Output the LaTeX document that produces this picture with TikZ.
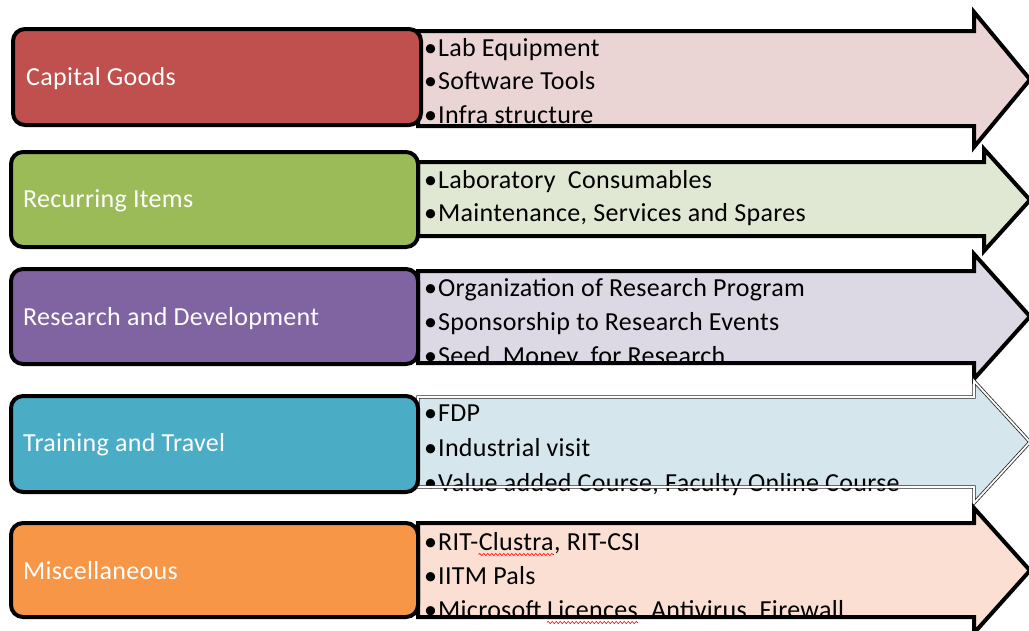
\documentclass[tikz,border=0pt]{standalone}
\usepackage{fontspec}
\setmainfont{Carlito}[LetterSpace=1.2]
\usetikzlibrary{decorations.pathmorphing}
\definecolor{capred}{HTML}{C0504D}
\definecolor{caplight}{HTML}{EAD5D4}
\definecolor{recgreen}{HTML}{9BBB59}
\definecolor{reclight}{HTML}{E0E8D3}
\definecolor{rdpurple}{HTML}{8064A2}
\definecolor{rdlight}{HTML}{DCD8E4}
\definecolor{trteal}{HTML}{4BACC6}
\definecolor{trlight}{HTML}{D5E6EC}
\definecolor{misorange}{HTML}{F79646}
\definecolor{mislight}{HTML}{FBDFD3}
\newcommand\arrowpath[5]{(418,#1) -- (#5,#1) -- (#5,#3) -- (1030,{(#3+#4)/2}) -- (#5,#4) -- (#5,#2) -- (418,#2) -- cycle}
\tikzset{
  catbox/.style={draw=black, line width=4pt, rounded corners=12pt, inner sep=0pt},
  lab/.style={text=white, font=\fontsize{26}{30}\selectfont, inner sep=0pt, anchor=base west},
  item/.style={text=black, font=\fontsize{26}{30}\selectfont, inner sep=0pt, anchor=base west},
  arrowline/.style={draw=black, line width=4pt, line join=miter},
  dblline/.style={draw=black!85, line width=0.8pt, double=white, double distance=1.8pt, line join=miter},
  spell/.style={draw=red, line width=0.6pt, decorate, decoration={snake, segment length=4pt, amplitude=1.1pt}},
}
\newcommand\bul{\textbullet\hspace{1pt}}
\begin{document}
\begin{tikzpicture}[x=1pt,y=-1pt]
\useasboundingbox (0,0) rectangle (1029,630);
% ---------- Row 1 ----------
\fill[caplight] \arrowpath{31}{126}{12}{147}{974};
\begin{scope}
\clip \arrowpath{31}{126}{12}{147}{974};
\node[item] (a1) at (424,56) {\bul Lab Equipment};
\node[item] (a2) at (424,89.5) {\bul Software Tools};
\node[item] (a3) at (424,123) {\bul Infra structure};
\end{scope}
\draw[arrowline] \arrowpath{31}{126}{12}{147}{974};
\node[catbox, fill=capred, minimum width=408pt, minimum height=96pt] (cap) at (217,77) {};
\node[lab] (capl) at (26,85.5) {Capital Goods};
% ---------- Row 2 ----------
\fill[reclight] \arrowpath{162}{236}{149}{251}{984};
\begin{scope}
\clip \arrowpath{162}{236}{149}{251}{984};
\node[item] (b1) at (424,188.5) {\bul Laboratory\ \ Consumables};
\node[item] (b2) at (424,221.5) {\bul Maintenance, Services and Spares};
\end{scope}
\draw[arrowline] \arrowpath{162}{236}{149}{251}{984};
\node[catbox, fill=recgreen, minimum width=407pt, minimum height=95pt] (rec) at (214.5,199.5) {};
\node[lab] (recl) at (23,207.5) {Recurring Items};
% ---------- Row 3 ----------
\fill[rdlight] \arrowpath{271}{363}{254}{379}{974};
\begin{scope}
\clip \arrowpath{271}{363}{254}{379}{974};
\node[item] (c1) at (424,296.5) {\bul Organization of Research Program};
\node[item] (c2) at (424,330.5) {\bul Sponsorship to Research Events};
\node[item] (c3) at (424,364.5) {\bul Seed\ \ Money\ \ for Research};
\end{scope}
\draw[arrowline] \arrowpath{271}{363}{254}{379}{974};
\node[catbox, fill=rdpurple, minimum width=407pt, minimum height=95pt] (rd) at (214.5,316.5) {};
\node[lab] (rdl) at (23,325.5) {Research and Development};
% ---------- Row 4 ----------
\fill[trlight] \arrowpath{397}{487}{381}{503}{974};
\node[item] (d1) at (424,421.5) {\bul FDP};
\node[item] (d2) at (424,456.5) {\bul Industrial visit};
\node[item] (d3) at (424,491.5) {\bul Value added Course, Faculty Online Course};
\draw[dblline] \arrowpath{397}{487}{381}{503}{974};
\node[catbox, fill=trteal, minimum width=407pt, minimum height=96pt] (tr) at (214.5,444) {};
\node[lab] (trl) at (23,451.5) {Training and Travel};
% ---------- Row 5 ----------
\fill[mislight] \arrowpath{523}{617}{508}{633}{974};
\begin{scope}
\clip \arrowpath{523}{617}{508}{633}{974};
\node[item] (e1a) at (424,550.5) {\bul RIT-};
\node[item] (e1b) at (e1a.base east) {Clustra};
\node[item] (e1c) at (e1b.base east) {, RIT-CSI};
\node[item] (e2) at (424,584.5) {\bul IITM Pals};
\node[item] (e3a) at (424,618.5) {\bul Microsoft\kern5pt\null};
\node[item] (e3b) at (e3a.base east) {Licences};
\node[item] (e3c) at (e3b.base east) {, Antivirus, Firewall};
\end{scope}
\draw[arrowline] \arrowpath{523}{617}{508}{633}{974};
\draw[spell] ([yshift=-4pt]e1b.base west) -- ([yshift=-4pt]e1b.base east);
\draw[spell] ([yshift=-4pt]e3b.base west) -- ([yshift=-4pt]e3b.base east);
\node[catbox, fill=misorange, minimum width=407pt, minimum height=94pt] (mis) at (214.5,570) {};
\node[lab] (misl) at (23,579.5) {Miscellaneous};
\end{tikzpicture}
\end{document}
